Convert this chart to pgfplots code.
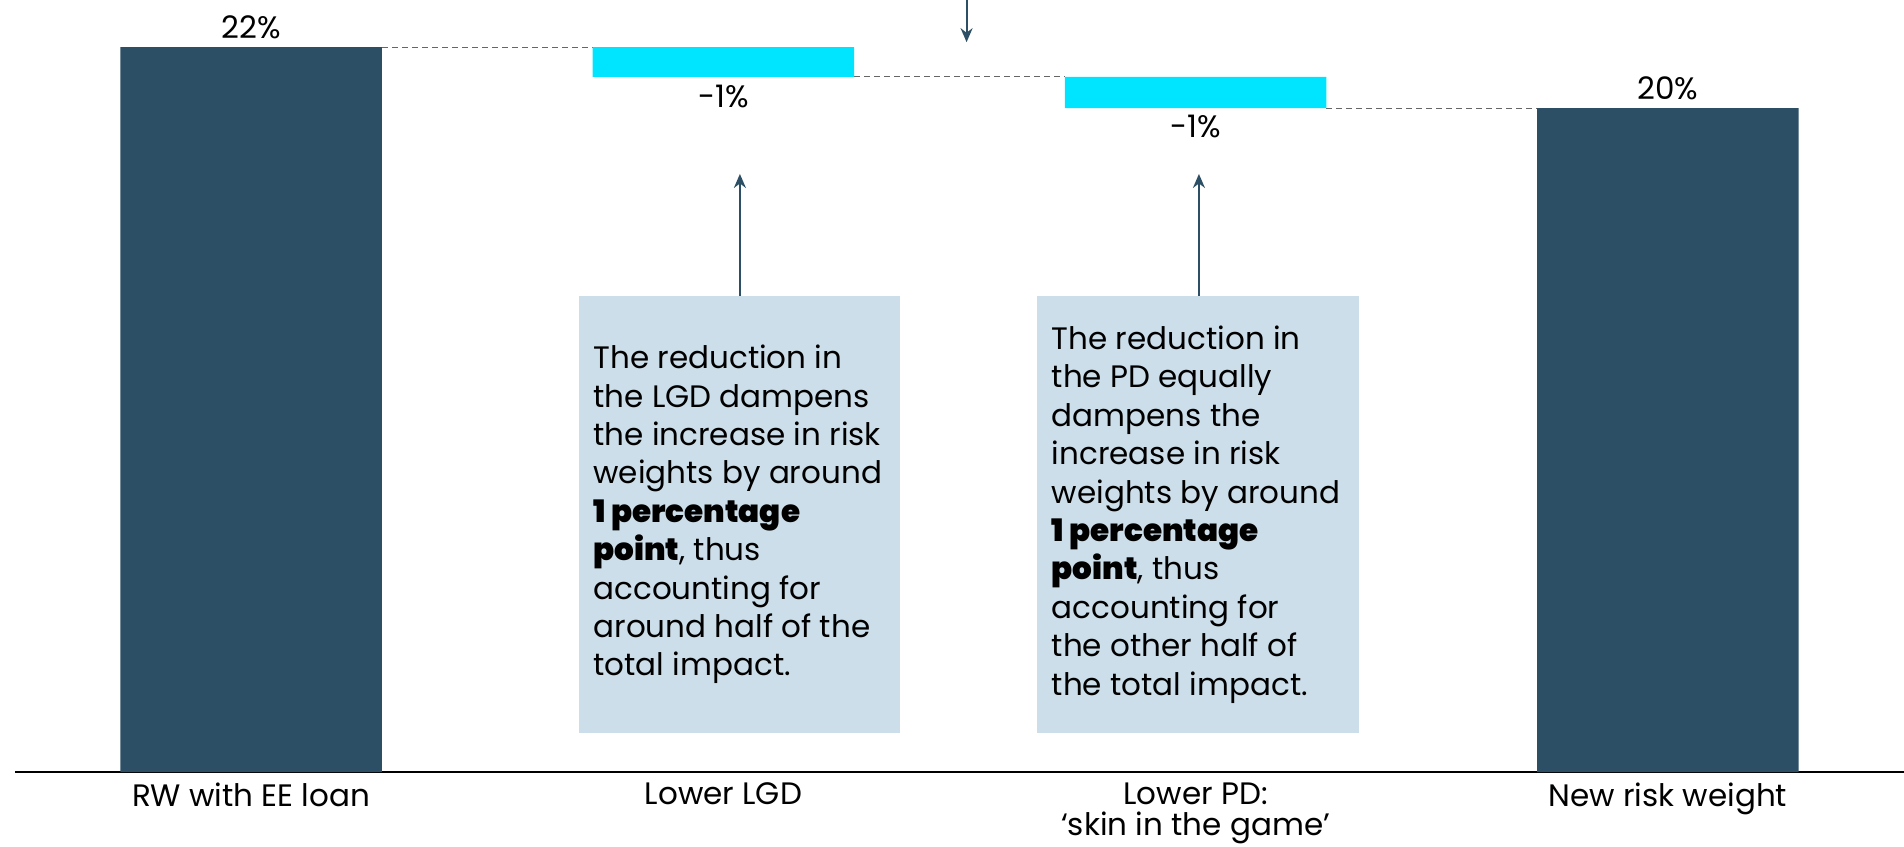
\documentclass[border=0pt]{standalone}
\usepackage{pgfplots}
\pgfplotsset{compat=1.18}
\usepackage{fontspec}
\setmainfont{Poppins}[BoldFont={Poppins Black}]
\usetikzlibrary{arrows.meta,calc}
\definecolor{rwdark}{HTML}{2C4F65}
\definecolor{rwcyan}{HTML}{00E5FF}
\definecolor{rwbox}{HTML}{CCDEE9}

\begin{document}
\begin{tikzpicture}
\useasboundingbox (0,0) rectangle (952pt,423pt);
\begin{axis}[
  at={(7.5pt,37pt)}, anchor=south west,
  scale only axis,
  width=944.5pt, height=386pt,
  xmin=-0.5, xmax=3.5,
  ymin=0, ymax=23.43,
  ybar stacked,
  bar width=0.554,
  axis x line=bottom,
  axis y line=none,
  x axis line style={-, line width=1pt, black},
  xtick={0,1,2,3},
  xticklabels={RW with EE loan, Lower LGD, {Lower PD:\\‘skin in the game’}, New risk weight},
  major tick length=0pt,
  xticklabel style={align=center, font=\fontsize{15.5}{15.5}\selectfont, yshift=-2pt},
  ytick=\empty,
  clip=false,
]
% invisible base
\addplot[draw=none, fill=none] coordinates {(0,0) (1,21.1) (2,20.15) (3,0)};
% totals
\addplot[draw=none, fill=rwdark] coordinates {(0,22) (1,0) (2,0) (3,20.15)};
% changes
\addplot[draw=none, fill=rwcyan] coordinates {(0,0) (1,0.9) (2,0.95) (3,0)};

% connectors
\draw[gray!80!black, densely dashed, line width=0.4pt] (axis cs:0.277,22) -- (axis cs:0.723,22);
\draw[gray!80!black, densely dashed, line width=0.4pt] (axis cs:1.277,21.1) -- (axis cs:1.723,21.1);
\draw[gray!80!black, densely dashed, line width=0.4pt] (axis cs:2.277,20.15) -- (axis cs:2.723,20.15);

% value labels
\node[font=\fontsize{15.5}{16}\selectfont] at (axis cs:0,22.6) {22\%};
\node[font=\fontsize{15.5}{16}\selectfont] at (axis cs:1,20.5) {-1\%};
\node[font=\fontsize{15.5}{16}\selectfont] at (axis cs:2,19.6) {-1\%};
\node[font=\fontsize{15.5}{16}\selectfont] at (axis cs:3,20.75) {20\%};

% arrows
\draw[rwdark, line width=1pt, -{Stealth[length=7pt, width=6pt]}] (axis cs:1.515,23.43) -- (axis cs:1.515,22.15);
\draw[rwdark, line width=1pt, -{Stealth[length=7pt, width=6pt]}] (axis cs:1.035,14.45) -- (axis cs:1.035,18.15);
\draw[rwdark, line width=1pt, -{Stealth[length=7pt, width=6pt]}] (axis cs:2.007,14.45) -- (axis cs:2.007,18.15);

% text box corners
\coordinate (b1sw) at (axis cs:0.6945,1.18);
\coordinate (b1ne) at (axis cs:1.375,14.45);
\coordinate (b2sw) at (axis cs:1.665,1.18);
\coordinate (b2ne) at (axis cs:2.346,14.45);
\end{axis}

\fill[rwbox] (b1sw) rectangle (b1ne);
\fill[rwbox] (b2sw) rectangle (b2ne);
\node[anchor=west, align=left, inner sep=0pt, font=\fontsize{15.5}{19.2}\selectfont]
  at ($(b1sw)!0.5!(b1sw |- b1ne) + (7pt,0)$)
  {The reduction in\\the LGD dampens\\the increase in risk\\weights by around\\\textbf{1 percentage}\\\textbf{point}, thus\\accounting for\\around half of the\\total impact.};
\node[anchor=west, align=left, inner sep=0pt, font=\fontsize{15.5}{19.2}\selectfont]
  at ($(b2sw)!0.5!(b2sw |- b2ne) + (7pt,0)$)
  {The reduction in\\the PD equally\\dampens the\\increase in risk\\weights by around\\\textbf{1 percentage}\\\textbf{point}, thus\\accounting for\\the other half of\\the total impact.};
\end{tikzpicture}
\end{document}
